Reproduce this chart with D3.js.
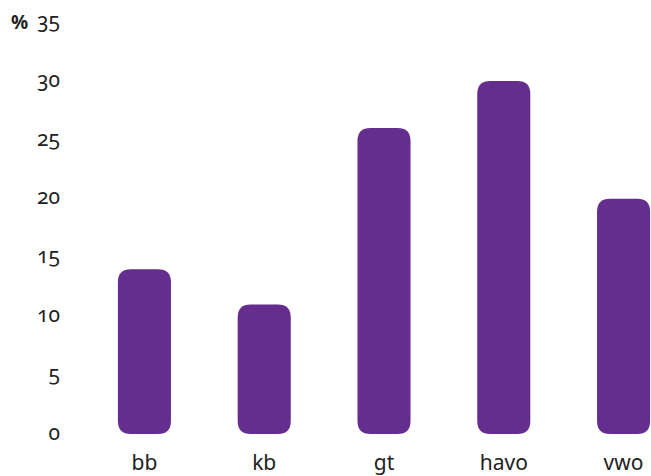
<!DOCTYPE html>
<html><head><meta charset="utf-8">
<script src="https://cdn.jsdelivr.net/npm/d3@7/dist/d3.min.js"></script>
<style>
body{margin:0;background:#fff;}
text{font-family:"Noto Sans",sans-serif;fill:#222;}
</style></head>
<body>
<svg id="c" width="651" height="476"></svg>
<script>
const categories = ["bb","kb","gt","havo","vwo"];
const values = [14, 11, 26, 30, 20];
const yTicks = [0,5,10,15,20,25,30,35];
const unitLabel = "%";

const svg = d3.select("#c");
const y = d3.scaleLinear().domain([0,35]).range([434, 22.2]);
const x = d3.scaleBand().domain(categories).range([84.6, 683.4]).paddingInner(0.557).paddingOuter(0.278);

svg.append("g").selectAll("path").data(values).join("path")
  .attr("fill","#652d8e")
  .attr("d",(d,i)=>{
    const x0=x(categories[i]), w=x.bandwidth(), y0=y(d), y1=y(0), r=13;
    return `M${x0+r},${y0}H${x0+w-r}Q${x0+w},${y0} ${x0+w},${y0+r}V${y1-r}Q${x0+w},${y1} ${x0+w-r},${y1}H${x0+r}Q${x0},${y1} ${x0},${y1-r}V${y0+r}Q${x0},${y0} ${x0+r},${y0}Z`;
  });

svg.append("g").selectAll("text").data(yTicks).join("text")
  .attr("x",60).attr("y",d=>y(d)).attr("dy","0.27em")
  .attr("text-anchor","end")
  .style("font-size","21px").style("font-weight",400).style("font-feature-settings",'"onum" 1')
  .text(d=>d);

svg.append("text").attr("x",11).attr("y",y(35)).attr("dy","0.35em")
  .style("font-size","19px").style("font-weight","bold").text(unitLabel);

svg.append("g").selectAll("text").data(categories).join("text")
  .attr("x",d=>x(d)+x.bandwidth()/2).attr("y",470)
  .attr("text-anchor","middle").style("font-size","21px").style("font-weight",400).text(d=>d);
</script>
</body></html>
